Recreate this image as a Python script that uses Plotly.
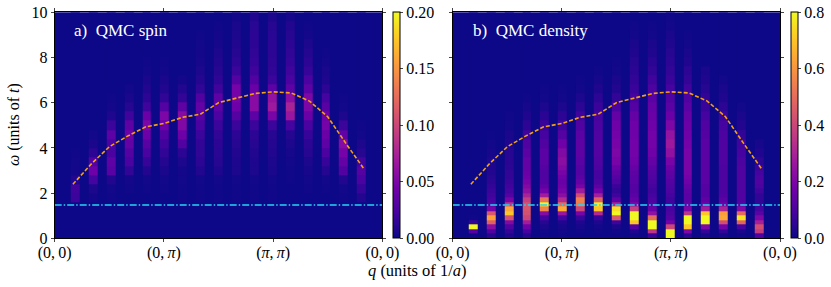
import plotly.graph_objects as go

W, H = 831, 287
q_ticks = [0, 6, 12, 18]
q_labels = ["(0,\u20090)", "(0,\u2009<i>π</i>)", "(<i>π</i>,\u2009<i>π</i>)", "(0,\u20090)"]
w_ticks = [0, 2, 4, 6, 8, 10]
q_columns = [1.15, 2.13, 3.12, 4.10, 5.08, 6.07, 7.05, 8.03, 9.02, 10.0, 10.98, 11.97, 12.95, 13.93, 14.92, 15.90, 16.88]
q_line = [1, 2, 3, 4, 5, 6, 7, 8, 9, 10, 11, 12, 13, 14, 15, 16, 17]
w_line = [2.39, 3.28, 4.05, 4.52, 4.93, 5.08, 5.35, 5.49, 6.0, 6.2, 6.41, 6.48, 6.43, 6.07, 5.38, 4.2, 3.06]
w_cut = 1.47

# values in thousandths, one list per q column, from low to high omega
spin_rows = [1.8, 2.2, 2.6, 3.0, 3.4, 3.8, 4.2, 4.6, 5.0, 5.4, 5.8, 6.2, 6.6, 7.0, 7.4, 7.8, 8.2, 8.6, 9.0, 9.4, 9.8]
spin_cols = [
    [18, 20, 8, 3, 2, 1],
    [3, 6, 22, 42, 30, 12, 5, 2],
    [1, 2, 8, 32, 34, 24, 26, 34, 18, 7, 3, 1],
    [0, 1, 3, 14, 24, 30, 38, 42, 35, 20, 10, 5, 2],
    [0, 1, 2, 8, 16, 24, 32, 42, 50, 40, 20, 12, 8, 5, 2, 1],
    [0, 1, 2, 5, 9, 14, 20, 28, 42, 50, 30, 14, 8, 5, 2, 1],
    [1, 1, 2, 3, 6, 12, 28, 42, 52, 55, 35, 15, 8, 3],
    [1, 1, 2, 8, 12, 14, 15, 18, 24, 32, 38, 28, 14, 9, 6, 4, 3, 2, 1],
    [1, 1, 2, 7, 10, 11, 12, 14, 18, 26, 34, 34, 20, 13, 10, 8, 6, 4, 3, 1],
    [1, 1, 2, 6, 7, 8, 10, 12, 18, 30, 42, 46, 46, 30, 18, 13, 10, 8, 6, 5, 3],
    [1, 1, 2, 6, 7, 8, 10, 12, 18, 34, 56, 56, 40, 28, 20, 16, 14, 12, 12, 11, 8],
    [1, 1, 2, 5, 6, 8, 9, 10, 18, 48, 68, 62, 34, 18, 14, 13, 12, 12, 11, 10, 6],
    [0, 0, 1, 1, 2, 4, 6, 9, 22, 66, 75, 58, 34, 24, 20, 16, 14, 12, 10, 8, 4],
    [0, 1, 2, 4, 6, 10, 12, 16, 24, 40, 50, 50, 34, 24, 16, 12, 9, 6, 3, 1],
    [0, 1, 2, 9, 16, 24, 34, 40, 46, 42, 32, 22, 12, 7, 5, 3, 1],
    [1, 2, 8, 28, 38, 46, 55, 36, 18, 6, 2, 1],
    [8, 16, 24, 30, 20, 10, 6, 2, 1],
]

dens_rows = [0.1, 0.3, 0.5, 0.7, 0.9, 1.1, 1.3, 1.5, 1.7, 1.9, 2.1, 2.3, 2.5, 2.7, 2.9, 3.1,
             3.4, 3.8, 4.2, 4.6, 5.0, 5.4, 5.8, 6.2, 6.6, 7.0, 7.4, 7.8, 8.2, 8.6, 9.0, 9.4, 9.8]
dens_cols = [
    [5, 120, 800, 60, 5, 2, 1],
    [40, 110, 230, 470, 620, 450, 190, 110, 90, 80, 70, 60, 50, 40, 35, 30, 25, 15, 8, 3],
    [30, 60, 110, 210, 430, 700, 640, 350, 190, 120, 90, 80, 70, 60, 60, 50, 45, 40, 30, 20, 10, 5, 2],
    [40, 90, 170, 280, 400, 430, 440, 430, 380, 300, 240, 210, 190, 170, 160, 150, 150, 130, 110, 80, 50, 30, 15, 5],
    [5, 10, 20, 40, 90, 220, 560, 800, 520, 280, 180, 140, 120, 110, 110, 120, 130, 130, 110, 90, 70, 45, 25, 10, 5],
    [3, 8, 15, 30, 90, 260, 650, 500, 320, 230, 190, 170, 160, 170, 190, 210, 230, 210, 170, 120, 80, 50, 25, 10, 5],
    [2, 5, 15, 30, 70, 190, 400, 540, 550, 420, 280, 190, 150, 130, 120, 120, 130, 140, 140, 130, 110, 80, 50, 25, 10, 5],
    [2, 5, 10, 25, 70, 320, 700, 780, 480, 290, 180, 130, 100, 90, 90, 100, 110, 120, 120, 110, 100, 90, 70, 50, 30, 15, 5],
    [2, 5, 20, 80, 450, 800, 750, 300, 140, 80, 60, 70, 100, 120, 140, 160, 190, 200, 190, 180, 170, 150, 100, 60, 35, 20, 10, 4],
    [5, 30, 120, 700, 800, 800, 380, 200, 150, 130, 120, 120, 130, 130, 140, 150, 170, 180, 180, 170, 170, 150, 120, 90, 70, 60, 50, 40, 30, 20, 10, 5],
    [70, 350, 800, 800, 500, 240, 160, 120, 100, 90, 80, 90, 100, 110, 120, 130, 150, 170, 180, 180, 170, 160, 150, 130, 100, 80, 60, 45, 30, 20, 10, 5],
    [800, 800, 400, 180, 120, 100, 90, 80, 80, 90, 100, 110, 120, 130, 140, 160, 190, 240, 270, 250, 200, 160, 130, 110, 90, 70, 60, 50, 40, 30, 20, 10, 5],
    [50, 200, 700, 800, 800, 350, 200, 150, 130, 130, 140, 150, 170, 180, 190, 190, 190, 190, 180, 170, 160, 150, 130, 110, 80, 60, 50, 30, 20, 10, 5],
    [15, 60, 200, 800, 800, 700, 280, 170, 140, 120, 120, 120, 130, 130, 130, 130, 130, 130, 130, 120, 110, 90, 70, 60, 40, 30, 20],
    [15, 60, 180, 420, 640, 620, 300, 170, 130, 110, 100, 100, 100, 100, 100, 100, 110, 110, 110, 100, 90, 70, 50, 30, 20, 10],
    [5, 20, 90, 480, 760, 500, 210, 130, 110, 110, 110, 110, 110, 110, 110, 110, 100, 90, 80, 60, 35, 20, 10],
    [110, 370, 420, 290, 200, 130, 90, 60, 60, 60, 80, 100, 110, 100, 90, 70, 50, 30, 15],
]


def matrix(cols, rows):
    filled = [c + [0] * (len(rows) - len(c)) for c in cols]
    return [[c[i] / 1000 for c in filled] for i in range(len(rows))]


FONT = "Liberation Serif"
BG = "#0d0887"
fig = go.Figure()

fig.add_trace(go.Heatmap(x=q_columns, y=spin_rows, z=matrix(spin_cols, spin_rows), colorscale="Plasma",
                         zmin=0, zmax=0.2, xgap=9, hoverinfo="skip", xaxis="x", yaxis="y",
                         colorbar=dict(x=392.7 / W, xanchor="left", xpad=0, ypad=0, y=1 - 125.3 / H, yanchor="middle",
                                       len=226 / H, lenmode="fraction", thickness=6.5, thicknessmode="pixels",
                                       tickvals=[0, 0.05, 0.1, 0.15, 0.2],
                                       ticktext=["0.00", "0.05", "0.10", "0.15", "0.20"],
                                       ticks="outside", ticklen=3, tickwidth=1, outlinewidth=1, outlinecolor="black",
                                       tickfont=dict(family=FONT, size=16, color="black"))))
fig.add_trace(go.Heatmap(x=q_columns, y=dens_rows, z=matrix(dens_cols, dens_rows), colorscale="Plasma",
                         zmin=0, zmax=0.8, xgap=9, hoverinfo="skip", xaxis="x2", yaxis="y2",
                         colorbar=dict(x=790.7 / W, xanchor="left", xpad=0, ypad=0, y=1 - 125.3 / H, yanchor="middle",
                                       len=226 / H, lenmode="fraction", thickness=6.5, thicknessmode="pixels",
                                       tickvals=[0, 0.2, 0.4, 0.6, 0.8],
                                       ticktext=["0.0", "0.2", "0.4", "0.6", "0.8"],
                                       ticks="outside", ticklen=3, tickwidth=1, outlinewidth=1, outlinecolor="black",
                                       tickfont=dict(family=FONT, size=16, color="black"))))

for xa, ya in (("x", "y"), ("x2", "y2")):
    fig.add_trace(go.Scatter(x=q_line, y=w_line, mode="lines", xaxis=xa, yaxis=ya, showlegend=False, hoverinfo="skip",
                             line=dict(color="#f5a010", width=1.6, dash="4px,2px")))
    fig.add_trace(go.Scatter(x=[q_ticks[0], q_ticks[-1]], y=[w_cut, w_cut], mode="lines", xaxis=xa, yaxis=ya,
                             showlegend=False, hoverinfo="skip",
                             line=dict(color="#25d5f5", width=1.5, dash="7px,2px,1.5px,2px")))

xcommon = dict(range=[0, 18], tickvals=q_ticks, ticktext=q_labels, ticks="outside", ticklen=3, tickwidth=1,
               ticklabelstandoff=-4, showline=True, linecolor="black", linewidth=1, mirror="ticks",
               showgrid=False, zeroline=False, tickfont=dict(family=FONT, size=16, color="black"))
ycommon = dict(range=[0, 10], tickvals=w_ticks, ticks="outside", ticklen=3, tickwidth=1,
               showline=True, linecolor="black", linewidth=1, mirror="ticks", showgrid=False, zeroline=False,
               domain=[1 - 238.3 / H, 1 - 12.3 / H],
               tickfont=dict(family=FONT, size=16, color="black"))


def note(text, x, y, color="black", size=15, angle=0, anchor="left"):
    return dict(text=text, x=x / W, y=1 - y / H, xref="paper", yref="paper", showarrow=False, xanchor=anchor,
                yanchor="middle", textangle=angle, font=dict(family=FONT, size=size, color=color))


fig.update_layout(
    width=W, height=H, margin=dict(l=0, r=0, t=0, b=0, autoexpand=False), paper_bgcolor="white", plot_bgcolor=BG,
    showlegend=False,
    xaxis=dict(domain=[54.7 / W, 382.3 / W], anchor="y", **xcommon),
    yaxis=dict(anchor="x", showticklabels=True, **ycommon),
    xaxis2=dict(domain=[452.7 / W, 780 / W], anchor="y2", **xcommon),
    yaxis2=dict(anchor="x2", showticklabels=False, **ycommon),
    annotations=[
        note("a)\u00a0 QMC spin", 72, 30, "white", size=17),
        note("b)\u00a0 QMC density", 471, 30, "white", size=17),
        note("<i>ω</i> (units of <i>t</i>)", 14, 125, size=16, angle=-90, anchor="center"),
        note("<i>q</i> (units of 1/<i>a</i>)", 417.5, 270, size=16.5, anchor="center"),
    ],
)

fig.write_html("out.html", config=dict(displayModeBar=False), post_script="document.body.style.margin='0';")
